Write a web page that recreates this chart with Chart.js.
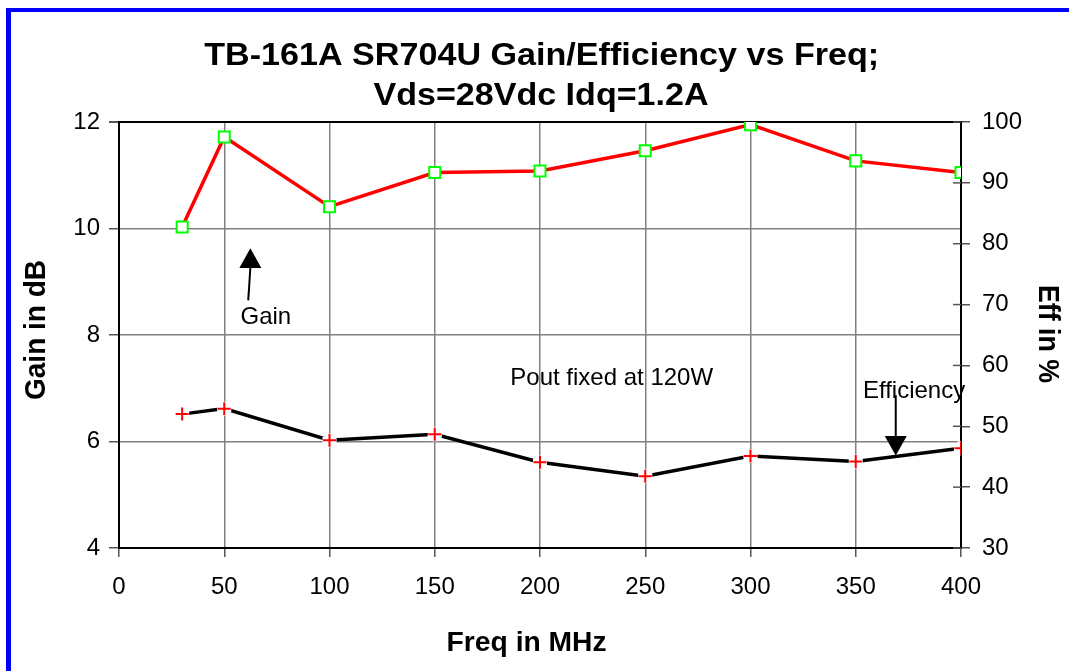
<!DOCTYPE html>
<html>
<head>
<meta charset="utf-8">
<script src="https://cdn.jsdelivr.net/npm/chart.js@4.4.0/dist/chart.umd.min.js"></script>
<style>
  html, body { margin: 0; padding: 0; background: #fff; }
  #wrap { width: 1069px; height: 671px; position: relative; }
</style>
</head>
<body>
<div id="wrap"><canvas id="gain-eff"></canvas></div>
<script>
// data
var freqs = [30, 50, 100, 150, 200, 250, 300, 350, 400];
var gainDb = [10.03, 11.72, 10.41, 11.05, 11.08, 11.46, 11.95, 11.27, 11.05];
var effPct = [52.0, 52.9, 47.7, 48.7, 44.1, 41.8, 45.1, 44.2, 46.4];

var xTicks = [0, 50, 100, 150, 200, 250, 300, 350, 400];
var gainTicks = [4, 6, 8, 10, 12];
var effTicks = [30, 40, 50, 60, 70, 80, 90, 100];

var titleLines = ['TB-161A SR704U Gain/Efficiency vs Freq;', 'Vds=28Vdc Idq=1.2A'];

function toPoints(xs, ys) {
    return xs.map(function(x, i) { return { x: x, y: ys[i] }; });
}

// draw text squeezed/stretched to a target width
function fitText(ctx, text, x, y, width, font, rot) {
    ctx.save();
    ctx.font = font;
    ctx.fillStyle = '#000';
    ctx.textAlign = 'center';
    ctx.textBaseline = 'alphabetic';
    var w = ctx.measureText(text).width;
    ctx.translate(x, y);
    if (rot) ctx.rotate(rot);
    ctx.scale(width / w, 1);
    ctx.fillText(text, 0, 0);
    ctx.restore();
}

function arrow(ctx, x1, y1, x2, y2, baseY, half) {
    ctx.save();
    ctx.strokeStyle = '#000';
    ctx.fillStyle = '#000';
    ctx.lineWidth = 2;
    ctx.beginPath();
    ctx.moveTo(x1, y1);
    ctx.lineTo(x2, baseY);
    ctx.stroke();
    ctx.beginPath();
    ctx.moveTo(x2, y2);
    ctx.lineTo(x2 - half, baseY);
    ctx.lineTo(x2 + half, baseY);
    ctx.closePath();
    ctx.fill();
    ctx.restore();
}

var decorPlugin = {
    id: 'decor',
    afterDraw: function(chart) {
        var ctx = chart.ctx;
        var sx = chart.scales.x, sy = chart.scales.y, se = chart.scales.y2;

        // blue frame
        ctx.save();
        ctx.fillStyle = '#0000ff';
        ctx.fillRect(6, 8, 1069, 4);
        ctx.fillRect(6, 8, 5, 671);
        ctx.restore();

        // inner ticks on right axis
        ctx.save();
        ctx.strokeStyle = '#555';
        ctx.lineWidth = 1.5;
        effTicks.forEach(function(t) {
            var py = se.getPixelForValue(t);
            ctx.beginPath();
            ctx.moveTo(sx.right - 8, py);
            ctx.lineTo(sx.right, py);
            ctx.stroke();
        });
        ctx.restore();

        fitText(ctx, titleLines[0], 541.7, 64.5, 675, 'bold 31px "Liberation Sans"');
        fitText(ctx, titleLines[1], 541, 105, 335, 'bold 31px "Liberation Sans"');
        fitText(ctx, 'Freq in MHz', 526.6, 651, 160, 'bold 27px "Liberation Sans"');
        fitText(ctx, 'Gain in dB', 45, 330, 140, 'bold 29px "Liberation Sans"', -Math.PI / 2);
        fitText(ctx, 'Eff in %', 1039, 334, 98, 'bold 29px "Liberation Sans"', Math.PI / 2);

        ctx.save();
        ctx.font = '24px "Liberation Sans"';
        ctx.fillStyle = '#000';
        ctx.textAlign = 'left';
        ctx.fillText('Gain', sx.getPixelForValue(57.7), sy.getPixelForValue(8.2));
        ctx.fillText('Pout fixed at 120W', sx.getPixelForValue(185.9), sy.getPixelForValue(7.06));
        ctx.fillText('Efficiency', sx.getPixelForValue(353.4), sy.getPixelForValue(6.81));
        ctx.restore();

        arrow(ctx, sx.getPixelForValue(61.4), sy.getPixelForValue(8.65),
              sx.getPixelForValue(62.4), sy.getPixelForValue(9.63), sy.getPixelForValue(9.26), 11);
        arrow(ctx, sx.getPixelForValue(369), se.getPixelForValue(55.1),
              sx.getPixelForValue(369), se.getPixelForValue(45.2), se.getPixelForValue(48.4), 11);
    }
};

var tickFont = { family: '"Liberation Sans"', size: 24 };

var ctx = document.getElementById('gain-eff').getContext('2d');
var chart = new Chart(ctx, {
    type: 'line',
    data: {
        datasets: [{
            label: 'Gain',
            data: toPoints(freqs, gainDb),
            yAxisID: 'y',
            order: 0,
            borderColor: '#ff0000',
            borderWidth: 3.5,
            pointStyle: 'rect',
            pointRadius: 7.8,
            pointBorderColor: '#00ff00',
            pointBackgroundColor: '#ffffff',
            pointBorderWidth: 2,
            tension: 0
        }, {
            label: 'Efficiency',
            data: toPoints(freqs, effPct),
            yAxisID: 'y2',
            order: 3,
            borderColor: '#000000',
            borderWidth: 3.5,
            pointRadius: 0,
            tension: 0
        }, {
            // white halo behind the crosses (line breaks at the markers)
            label: 'Efficiency halo',
            data: toPoints(freqs, effPct),
            yAxisID: 'y2',
            order: 2,
            showLine: false,
            pointStyle: 'cross',
            pointRadius: 7,
            pointBorderColor: '#ffffff',
            pointBorderWidth: 7
        }, {
            label: 'Efficiency points',
            data: toPoints(freqs, effPct),
            yAxisID: 'y2',
            order: 1,
            showLine: false,
            pointStyle: 'cross',
            pointRadius: 6.5,
            pointBorderColor: '#ff0000',
            pointBorderWidth: 2
        }]
    },
    options: {
        responsive: true,
        maintainAspectRatio: false,
        animation: false,
        layout: { padding: { top: 122, left: 0, right: 0, bottom: 0 } },
        plugins: {
            legend: { display: false },
            title: { display: false },
            tooltip: { enabled: false }
        },
        scales: {
            x: {
                type: 'linear',
                min: 0,
                max: 400,
                afterBuildTicks: function(axis) { axis.ticks = xTicks.map(function(v) { return { value: v }; }); },
                afterFit: function(axis) { axis.height = 123; },
                ticks: { font: tickFont, color: '#000', padding: 16, maxRotation: 0 },
                grid: { color: '#808080', lineWidth: 1.5, tickLength: 9, tickColor: '#555' },
                border: { color: '#000', width: 2 }
            },
            y: {
                position: 'left',
                min: 4,
                max: 12,
                afterBuildTicks: function(axis) { axis.ticks = gainTicks.map(function(v) { return { value: v }; }); },
                afterFit: function(axis) { axis.width = 119; },
                ticks: { font: tickFont, color: '#000', padding: 9 },
                grid: {
                    color: function(c) { return c.tick && c.tick.value === 12 ? '#000' : '#808080'; },
                    lineWidth: function(c) { return c.tick && c.tick.value === 12 ? 2 : 1.5; },
                    tickLength: 10,
                    tickColor: '#555'
                },
                border: { color: '#000', width: 2 }
            },
            y2: {
                position: 'right',
                min: 30,
                max: 100,
                afterBuildTicks: function(axis) { axis.ticks = effTicks.map(function(v) { return { value: v }; }); },
                afterFit: function(axis) { axis.width = 108; },
                ticks: { font: tickFont, color: '#000', padding: 12 },
                grid: { drawOnChartArea: false, tickLength: 9, tickColor: '#555', lineWidth: 1.5 },
                border: { color: '#000', width: 2 }
            }
        }
    },
    plugins: [decorPlugin]
});
</script>
</body>
</html>
